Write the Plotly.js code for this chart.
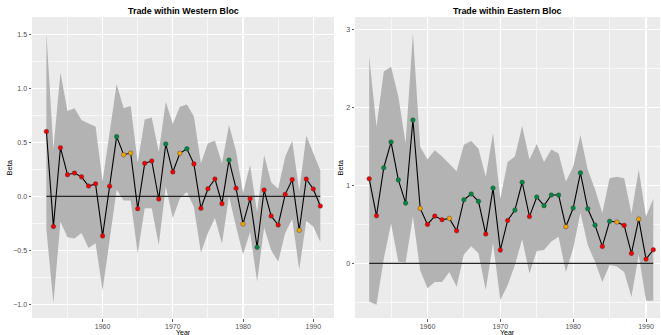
<!DOCTYPE html>
<html>
<head>
<meta charset="utf-8">
<script src="https://cdn.plot.ly/plotly-3.0.1.min.js"></script>
<style>html,body{margin:0;padding:0;background:#fff;}#chart{width:661px;height:335px;}</style>
</head>
<body>
<div id="chart"></div>
<script>
// ---- data ----
const years = [1952,1953,1954,1955,1956,1957,1958,1959,1960,1961,
               1962,1963,1964,1965,1966,1967,1968,1969,1970,1971,
               1972,1973,1974,1975,1976,1977,1978,1979,1980,1981,
               1982,1983,1984,1985,1986,1987,1988,1989,1990,1991];

const westBeta  = [0.60,-0.28,0.45,0.20,0.215,0.18,0.095,0.115,-0.367,0.093,
                   0.552,0.385,0.40,-0.115,0.305,0.327,-0.025,0.484,0.225,0.398,
                   0.44,0.30,-0.111,0.07,0.16,-0.068,0.335,0.074,-0.256,-0.022,
                   -0.472,0.058,-0.182,-0.266,0.018,0.154,-0.315,0.16,0.068,-0.09];
const westUpper = [1.51,0.44,1.145,0.79,0.815,0.706,0.675,0.645,0.14,0.60,
                   1.04,0.815,0.836,0.31,0.71,0.73,0.41,0.876,0.67,0.83,
                   0.85,0.74,0.305,0.49,0.515,0.305,0.66,0.42,0.03,0.29,
                   -0.15,0.38,0.13,0.07,0.367,0.515,0.05,0.56,0.40,0.24];
const westLower = [-0.31,-0.99,-0.235,-0.38,-0.39,-0.34,-0.48,-0.435,-0.87,-0.41,
                   0.06,-0.04,-0.04,-0.53,-0.11,-0.11,-0.45,0.09,-0.20,-0.02,
                   0.04,-0.10,-0.52,-0.34,-0.20,-0.44,0.0,-0.28,-0.54,-0.33,
                   -0.79,-0.29,-0.50,-0.605,-0.34,-0.21,-0.68,-0.23,-0.28,-0.42];
const westSig   = ['r','r','r','r','r','r','r','r','r','r',
                   'g','o','o','r','r','r','r','g','r','o',
                   'g','r','r','r','r','r','g','r','o','r',
                   'g','r','r','r','r','r','o','r','r','r'];

const eastBeta  = [1.085,0.61,1.226,1.555,1.07,0.773,1.837,0.705,0.50,0.606,
                   0.56,0.577,0.418,0.816,0.89,0.795,0.376,0.965,0.17,0.55,
                   0.683,1.04,0.60,0.85,0.74,0.876,0.876,0.47,0.71,1.16,
                   0.70,0.49,0.218,0.54,0.53,0.487,0.128,0.568,0.055,0.175];
const eastUpper = [2.65,1.75,2.46,2.52,2.14,1.54,2.95,1.495,1.33,1.45,
                   1.37,1.28,1.18,1.52,1.57,1.47,1.11,1.67,0.83,1.30,
                   1.37,1.76,1.33,1.53,1.30,1.46,1.41,1.05,1.24,1.645,
                   1.20,0.95,0.645,1.09,1.11,1.09,0.64,1.20,0.60,0.83];
const eastLower = [-0.49,-0.53,0.06,0.51,0.02,0.01,0.60,-0.09,-0.32,-0.24,
                   -0.24,-0.11,-0.30,0.115,0.22,0.13,-0.34,0.26,-0.47,-0.28,
                   -0.02,0.31,-0.13,0.16,0.17,0.28,0.34,-0.11,0.19,0.65,
                   0.235,0.02,-0.24,-0.02,-0.04,-0.11,-0.43,0.11,-0.48,-0.48];
const eastSig   = ['r','r','g','g','g','g','g','o','r','r',
                   'r','o','r','g','g','g','r','g','r','r',
                   'g','g','r','g','g','g','g','o','g','g',
                   'g','g','r','g','o','r','r','o','r','r'];

const xTickVals = [1960,1970,1980,1990];
const westYTicks = [-1.0,-0.5,0.0,0.5,1.0,1.5];
const eastYTicks = [0,1,2,3];
const panelTitles = ['Trade within Western Bloc','Trade within Eastern Bloc'];
const xTitle = 'Year';
const yTitle = 'Beta';

// ---- styling ----
const sigColor = {r:'#F20000', g:'#00873F', o:'#F5A300'};
const FONT = '"Liberation Sans", Arial, Helvetica, sans-serif';
const ribbonColor = '#B3B3B3';

function panelTraces(beta, upper, lower, sig, xa, ya){
  return [
    {x: years, y: lower, xaxis: xa, yaxis: ya, type:'scatter', mode:'lines',
     line:{width:0, color:ribbonColor}, hoverinfo:'skip', showlegend:false},
    {x: years, y: upper, xaxis: xa, yaxis: ya, type:'scatter', mode:'lines',
     fill:'tonexty', fillcolor:ribbonColor, line:{width:0, color:ribbonColor},
     hoverinfo:'skip', showlegend:false},
    {x: [years[0], years[years.length-1]], y: [0,0], xaxis: xa, yaxis: ya,
     type:'scatter', mode:'lines', line:{width:1.3, color:'#262626'},
     hoverinfo:'skip', showlegend:false},
    {x: years, y: beta, xaxis: xa, yaxis: ya, type:'scatter', mode:'lines+markers',
     line:{width:1.1, color:'#000000'},
     marker:{size:4.6, color: sig.map(s => sigColor[s]), line:{width:0.4, color:'#3a3a3a'}},
     showlegend:false}
  ];
}

const data = [].concat(
  panelTraces(westBeta, westUpper, westLower, westSig, 'x', 'y'),
  panelTraces(eastBeta, eastUpper, eastLower, eastSig, 'x2', 'y2')
);

const H = 335, W = 661;
const py = v => 1 - v / H;   // pixel y -> paper
const px = v => v / W;       // pixel x -> paper

const baseX = {
  showline:false, zeroline:false, showgrid:true, gridcolor:'#FFFFFF', gridwidth:1.2,
  ticks:'outside', ticklen:2.5, tickwidth:0.8, tickcolor:'#333333',
  tickfont:{family:FONT, size:7, color:'#4D4D4D'},
  tickmode:'array', tickvals:xTickVals, ticklabelstandoff:-1,
  minor:{tickmode:'linear', dtick:5, tick0:1955, showgrid:true, gridcolor:'#FFFFFF', gridwidth:0.6, ticks:''},
  fixedrange:true
};
const baseY = {
  showline:false, zeroline:false, showgrid:true, gridcolor:'#FFFFFF', gridwidth:1.2,
  ticks:'outside', ticklen:2.5, tickwidth:0.8, tickcolor:'#333333',
  tickfont:{family:FONT, size:7, color:'#4D4D4D'},
  tickmode:'array',
  fixedrange:true
};

const layout = {
  width: W, height: H,
  margin:{l:0, r:0, t:0, b:0, pad:0},
  paper_bgcolor:'#FFFFFF',
  plot_bgcolor:'#EBEBEB',
  font:{family:FONT, color:'#000'},
  showlegend:false,
  xaxis: Object.assign({}, baseX, {domain:[px(32), px(334)], range:[1949.95, 1992.95], anchor:'y'}),
  yaxis: Object.assign({}, baseY, {domain:[py(318), py(17)], range:[-1.127, 1.66], anchor:'x',
          tickvals:westYTicks, tickformat:'.1f',
          minor:{tickmode:'linear', dtick:0.25, tick0:0.25, showgrid:true, gridcolor:'#FFFFFF', gridwidth:0.6, ticks:''}}),
  xaxis2: Object.assign({}, baseX, {domain:[px(355), px(660)], range:[1950.05, 1991.92], anchor:'y2'}),
  yaxis2: Object.assign({}, baseY, {domain:[py(318), py(17)], range:[-0.70, 3.158], anchor:'x2',
          tickvals:eastYTicks, tickformat:'d',
          minor:{tickmode:'linear', dtick:0.5, tick0:0.5, showgrid:true, gridcolor:'#FFFFFF', gridwidth:0.6, ticks:''}}),
  annotations:[
    {text:'<b>'+panelTitles[0]+'</b>', xref:'paper', yref:'paper', x:px(183.5), y:py(10.5),
     xanchor:'center', yanchor:'middle', showarrow:false, font:{family:FONT, size:8.9, color:'#000'}},
    {text:'<b>'+panelTitles[1]+'</b>', xref:'paper', yref:'paper', x:px(507.5), y:py(10.5),
     xanchor:'center', yanchor:'middle', showarrow:false, font:{family:FONT, size:8.9, color:'#000'}},
    {text:xTitle, xref:'paper', yref:'paper', x:px(183), y:py(332.3),
     xanchor:'center', yanchor:'middle', showarrow:false, font:{family:FONT, size:7, color:'#000'}},
    {text:xTitle, xref:'paper', yref:'paper', x:px(507.5), y:py(332.3),
     xanchor:'center', yanchor:'middle', showarrow:false, font:{family:FONT, size:7, color:'#000'}},
    {text:yTitle, xref:'paper', yref:'paper', x:px(9), y:py(167.5), textangle:-90,
     xanchor:'center', yanchor:'middle', showarrow:false, font:{family:FONT, size:7.5, color:'#000'}},
    {text:yTitle, xref:'paper', yref:'paper', x:px(340), y:py(167.5), textangle:-90,
     xanchor:'center', yanchor:'middle', showarrow:false, font:{family:FONT, size:7.5, color:'#000'}}
  ]
};

Plotly.newPlot('chart', data, layout, {displayModeBar:false, staticPlot:true});
</script>
</body>
</html>
